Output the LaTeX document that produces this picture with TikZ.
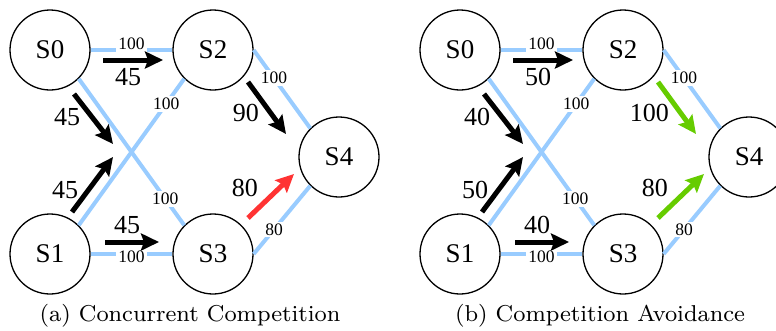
\documentclass[tikz,border=0pt]{standalone}
\usepackage{fontspec}
\newfontfamily\tnr{Liberation Serif}
\usetikzlibrary{arrows.meta,calc}
\definecolor{edgeblue}{RGB}{153,204,255}
\definecolor{flowred}{RGB}{255,51,51}
\definecolor{flowgreen}{RGB}{102,204,0}
\tikzset{
 state/.style={circle,draw,line width=1.3pt,minimum size=80pt,inner sep=0pt,font=\tnr\fontsize{27}{30}\selectfont},
 link/.style={draw=edgeblue,line width=4pt},
 linklab/.style={fill=white,inner sep=2pt,font=\tnr\fontsize{17.5}{19}\selectfont},
 flow/.style={line width=5pt,-{Stealth[length=18pt,width=17pt,inset=3pt]}},
 flowlab/.style={inner sep=0pt,font=\tnr\fontsize{26}{28}\selectfont},
 subcap/.style={inner sep=0pt}
}
\newcommand\drawpanel[9]{%
 \node[state] (#1s0) at (50,50) {S0};
 \node[state] (#1s2) at (213,50) {S2};
 \node[state] (#1s1) at (50,254) {S1};
 \node[state] (#1s3) at (213,254) {S3};
 \node[state] (#1s4) at (339,157) {S4};
 \draw[link] (#1s0.east) -- node[linklab,yshift=6pt] (#1e02) {100} (#1s2.west);
 \draw[link] (#1s1.east) -- node[linklab,yshift=-3pt] (#1e13) {100} (#1s3.west);
 \draw[link] (#1s0.south east) -- node[linklab,pos=0.82] (#1e03) {100} (#1s3.north west);
 \draw[link] (#1s1.north east) -- node[linklab,pos=0.83] (#1e12) {100} (#1s2.south west);
 \draw[link] (#1s2.east) -- node[linklab,pos=0.36] (#1e24) {100} (#1s4.north west);
 \draw[link] (#1s3.east) -- node[linklab,pos=0.36] (#1e34) {80} (#1s4.south west);
 \coordinate (#1p1) at (103,60);  \coordinate (#1q1) at (163,60);
 \coordinate (#1p2) at (74,94);   \coordinate (#1q2) at (113,144);
 \coordinate (#1p3) at (72,212);  \coordinate (#1q3) at (113,157);
 \coordinate (#1p4) at (105,242); \coordinate (#1q4) at (159,242);
 \coordinate (#1p5) at (248,82);  \coordinate (#1q5) at (286,134);
 \coordinate (#1p6) at (248,218); \coordinate (#1q6) at (294,174);
 \draw[flow] (#1p1) -- (#1q1);
 \draw[flow] (#1p2) -- (#1q2);
 \draw[flow] (#1p3) -- (#1q3);
 \draw[flow] (#1p4) -- (#1q4);
 \draw[flow,draw=#7,color=#7] (#1p5) -- (#1q5);
 \draw[flow,draw=#9,color=#9] (#1p6) -- (#1q6);
 \node[flowlab] (#1l1) at (128,77) {#2};
 \node[flowlab] (#1l2) at (67,117) {#3};
 \node[flowlab] (#1l3) at (65,190) {#4};
 \node[flowlab] (#1l4) at (127,225) {#5};
 \node[flowlab,anchor=east] (#1l5) at (259,113) {#6};
 \node[flowlab,anchor=east] (#1l6) at (258,188) {#8};
}
\begin{document}
\begin{tikzpicture}[x=1pt,y=-1pt]
 \useasboundingbox (0,0) rectangle (776,330);
 \drawpanel{a}{45}{45}{45}{45}{90}{black}{80}{flowred}
 \begin{scope}[xshift=410pt]
  \drawpanel{b}{50}{40}{50}{40}{100}{flowgreen}{80}{flowgreen}
 \end{scope}
 \node[subcap] (capa) at (190,316) {\scalebox{2.87}{\fontsize{8}{10}\selectfont (a) Concurrent Competition}};
 \node[subcap] (capb) at (600,316) {\scalebox{2.87}{\fontsize{8}{10}\selectfont (b) Competition Avoidance}};
\end{tikzpicture}
\end{document}
